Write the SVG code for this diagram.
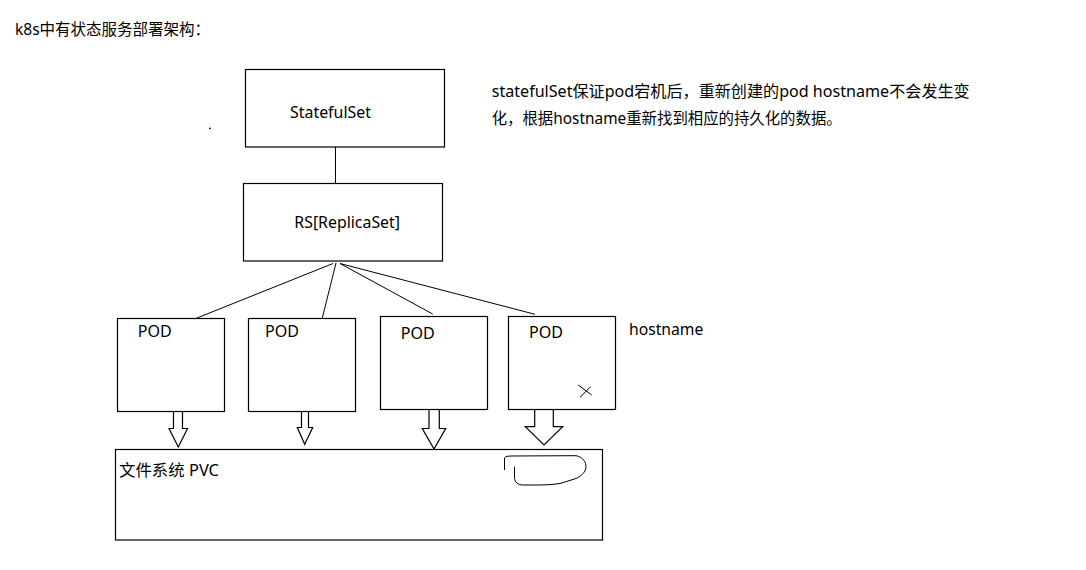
<svg xmlns="http://www.w3.org/2000/svg" width="1086" height="570" viewBox="0 0 1086 570">
<style>
text{font-family:"Noto Sans","Noto Sans CJK SC",sans-serif;font-size:16px;fill:#000}
.box{fill:#fff;stroke:#000;stroke-width:1.2}
.ln{stroke:#000;stroke-width:1;fill:none}
.arr{fill:#fff;stroke:#000;stroke-width:1.2;stroke-linejoin:miter}
</style>
<rect width="1086" height="570" fill="#fff"/>
<text x="15" y="35" textLength="195" lengthAdjust="spacingAndGlyphs">k8s中有状态服务部署架构：</text>
<circle cx="210" cy="128.3" r="0.9" fill="#000"/>
<text x="491.7" y="97" textLength="478" lengthAdjust="spacingAndGlyphs">statefulSet保证pod宕机后，重新创建的pod hostname不会发生变</text>
<text x="491.7" y="124" textLength="350" lengthAdjust="spacingAndGlyphs">化，根据hostname重新找到相应的持久化的数据。</text>
<g id="connectors">
<line class="ln" x1="335.5" y1="147" x2="335.5" y2="183"/>
<line class="ln" x1="333" y1="263.5" x2="187" y2="322"/>
<line class="ln" x1="336" y1="263" x2="322.3" y2="318"/>
<line class="ln" x1="340" y1="263.5" x2="432.7" y2="314"/>
<line class="ln" x1="340" y1="263.5" x2="535" y2="314.3"/>
<polygon class="arr" points="173.5,409.5 182.5,409.5 182.5,428.5 187.5,428.5 178.3,447 169,428.5 173.5,428.5"/>
<polygon class="arr" points="301.5,411 308.5,411 308.5,427.5 312.7,427.5 304.7,444.3 297.3,427.5 301.5,427.5"/>
<polygon class="arr" points="429,408.5 439.3,408.5 439.3,428.5 445.7,428.5 434,449 422.3,428.5 429,428.5"/>
<polygon class="arr" points="534.7,407 553.3,407 553.3,426.7 562.7,426.7 544,445 525.3,426.7 534.7,426.7"/>
</g>
<g id="statefulset">
<rect class="box" x="245.5" y="69.5" width="199" height="77.5"/>
<text x="290" y="118" textLength="81" lengthAdjust="spacingAndGlyphs">StatefulSet</text>
</g>
<g id="replicaset">
<rect class="box" x="243.5" y="183.5" width="199" height="77.5"/>
<text x="294.3" y="228" textLength="105.7" lengthAdjust="spacingAndGlyphs">RS[ReplicaSet]</text>
</g>
<g id="pod1">
<rect class="box" x="117.5" y="318.5" width="107" height="93"/>
<text x="137.7" y="337" textLength="34" lengthAdjust="spacingAndGlyphs">POD</text>
</g>
<g id="pod2">
<rect class="box" x="248.5" y="318.5" width="107" height="93"/>
<text x="265" y="336.5" textLength="34" lengthAdjust="spacingAndGlyphs">POD</text>
</g>
<g id="pod3">
<rect class="box" x="380.5" y="316.5" width="107" height="93"/>
<text x="400.7" y="339" textLength="34" lengthAdjust="spacingAndGlyphs">POD</text>
</g>
<g id="pod4">
<rect class="box" x="508.5" y="316.5" width="107" height="93"/>
<text x="529" y="338" textLength="34" lengthAdjust="spacingAndGlyphs">POD</text>
<line class="ln" x1="578.3" y1="385" x2="591.7" y2="395"/>
<line class="ln" x1="580" y1="397.3" x2="590.7" y2="386.7"/>
</g>
<text x="629" y="335" textLength="74.3" lengthAdjust="spacingAndGlyphs">hostname</text>
<g id="pvc">
<rect class="box" x="115.5" y="449.5" width="487" height="90.5"/>
<text x="119" y="475.7" textLength="100" lengthAdjust="spacingAndGlyphs">文件系统 PVC</text>
<path class="ln" d="M504.5,470 L504.5,458 Q505,456 510,456 L576,455.7 C583,457 586,462 586,467 C586,472 580,477 576,478.5 L560,483.5 Q550,485 540,485 L522,485 C516,484 514.5,481 514.5,477 L514.5,466.7"/>
</g>
</svg>
